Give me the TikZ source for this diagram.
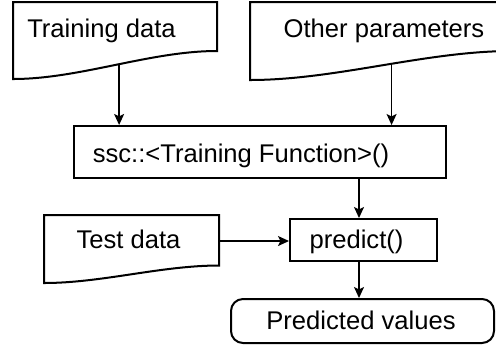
\documentclass[tikz,border=0pt]{standalone}
\usepackage{fontspec}
\setmainfont{Liberation Sans}
\usetikzlibrary{arrows.meta,calc}
\tikzset{docline/.style={draw=black,line width=1pt,fill=white},procbox/.style={draw=black,line width=1pt,fill=white,inner sep=0pt},endbox/.style={procbox,rounded corners=6pt},flowarrow/.style={draw=black,line width=.75pt,-{Stealth[length=5.5pt,width=5pt,inset=1.2pt]}},boxtext/.style={anchor=base,inner sep=0pt,font=\fontsize{12.8}{15}\selectfont}}

\begin{document}
\begin{tikzpicture}[x=.5pt,y=-.5pt]
\useasboundingbox (0,0) rectangle (496,345);
\clip (0,0) rectangle (496,345);
% input documents
\draw[docline] (13,2) -- (217,2) -- (217,51) .. controls (150,51) and (80,79) .. coordinate[pos=.48] (trainout) (13,79) -- cycle;
\draw[docline] (250,2) -- (512,2) -- (512,51) .. controls (426,51) and (336,80) .. coordinate[pos=.46] (otherout) (250,80) -- cycle;
\draw[docline] (44,215) -- (219,215) -- (219,265.5) .. controls (161,265.5) and (102,283) .. (44,283) -- cycle;
\coordinate (testout) at (219,241);
\node[boxtext] (traintext) at (101.5,37) {Training data};
\node[boxtext] (othertext) at (384,37) {Other parameters};
\node[boxtext] (testtext) at (128.5,248.5) {Test data};
% process boxes
\node[procbox,minimum width=186pt,minimum height=26pt] (ssc) at (260,152) {};
\node[boxtext] (ssctext) at (241,162.5) {ssc::<Training Function>()};
\node[procbox,minimum width=73.5pt,minimum height=21pt] (predict) at (363.5,240) {};
\node[boxtext] (predicttext) at (356.5,248.5) {predict()};
\node[endbox,minimum width=131.5pt,minimum height=22pt] (values) at (362.5,321) {};
\node[boxtext] (valuestext) at (361,329) {Predicted values};
% connectors
\draw[flowarrow] (trainout) -- (trainout |- ssc.north);
\draw[flowarrow] (otherout) -- (otherout |- ssc.north);
\draw[flowarrow] (ssc.south -| 359,0) -- (predict.north -| 359,0);
\draw[flowarrow] (testout) -- (testout -| predict.west);
\draw[flowarrow] (predict.south -| 359,0) -- (values.north -| 359,0);
\end{tikzpicture}
\end{document}
